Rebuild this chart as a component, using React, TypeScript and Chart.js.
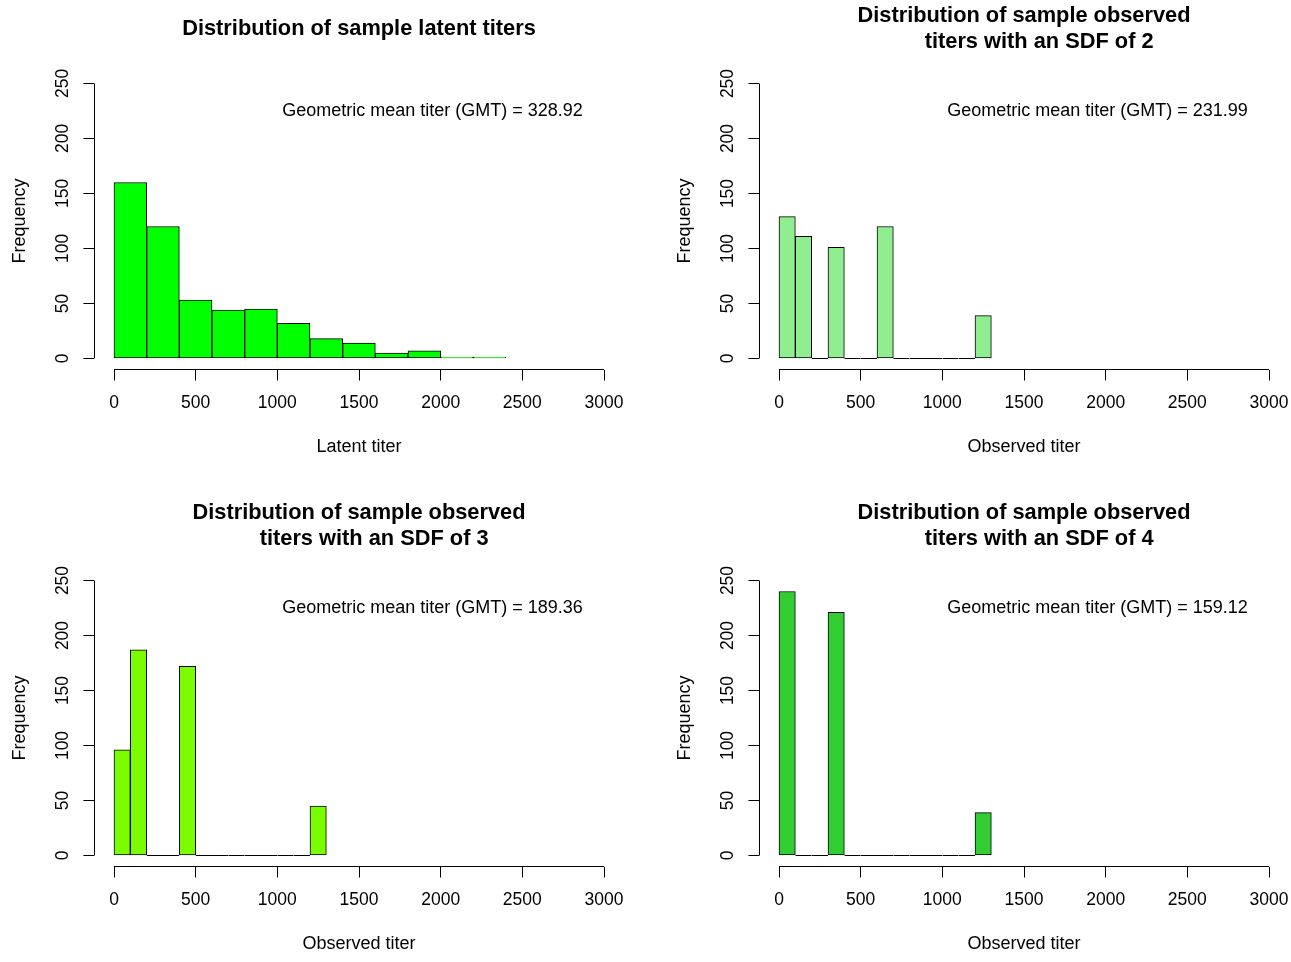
import React, { useEffect, useRef } from "react";
import { Chart, registerables } from "chart.js";

Chart.register(...registerables);

const FONT = "'Liberation Sans', Arial, Helvetica, sans-serif";

// ---- data ----
const latentCounts = [160, 120, 53, 44, 45, 32, 18, 14, 5, 7, 1, 1];
const sdf2Counts = [129, 111, 0, 101, 0, 0, 120, 0, 0, 0, 0, 0, 39];
const sdf3Counts = [96, 187, 0, 0, 172, 0, 0, 0, 0, 0, 0, 0, 45];
const sdf4Counts = [240, 0, 0, 221, 0, 0, 0, 0, 0, 0, 0, 0, 39];
const latentBinWidth = 200;
const observedBinWidth = 100;
const xTicks = [0, 500, 1000, 1500, 2000, 2500, 3000];
const yTicks = [0, 50, 100, 150, 200, 250];
const gmtValues = ["328.92", "231.99", "189.36", "159.12"];
const panelTitles = [
  ["Distribution of sample latent titers"],
  ["Distribution of sample observed", "     titers with an SDF of 2"],
  ["Distribution of sample observed", "     titers with an SDF of 3"],
  ["Distribution of sample observed", "     titers with an SDF of 4"],
];
const xAxisTitles = ["Latent titer", "Observed titer", "Observed titer", "Observed titer"];
const yAxisTitle = "Frequency";
const gmtLabelX = 1950;
const gmtLabelY = 225;

const barColors = ["#00FF00", "#90EE90", "#7CFC00", "#32CD32"];

type PanelProps = {
  counts: number[];
  binWidth: number;
  title: string[];
  xTitle: string;
  color: string;
  gmt: string;
  left: number;
  top: number;
};

function Panel({ counts, binWidth, title, xTitle, color, gmt, left, top }: PanelProps) {
  const ref = useRef<HTMLCanvasElement | null>(null);

  useEffect(() => {
    if (!ref.current) return;
    const points = counts.map((c, i) => ({ x: binWidth * (i + 0.5), y: c }));

    const axisLines = {
      id: "axisLines",
      afterDraw(chart: any) {
        const { ctx, chartArea, scales } = chart;
        const xs = scales.x;
        const ys = scales.y;
        ctx.save();
        ctx.strokeStyle = "#000";
        ctx.lineWidth = 1;
        ctx.beginPath();
        const yb = Math.floor(chartArea.bottom) + 0.5;
        ctx.moveTo(xs.getPixelForValue(xTicks[0]), yb);
        ctx.lineTo(xs.getPixelForValue(xTicks[xTicks.length - 1]), yb);
        const xl = Math.round(chartArea.left) + 0.5;
        ctx.moveTo(xl, ys.getPixelForValue(yTicks[0]));
        ctx.lineTo(xl, ys.getPixelForValue(yTicks[yTicks.length - 1]));
        ctx.stroke();
        ctx.restore();
      },
    };

    const gmtText = {
      id: "gmtText",
      afterDraw(chart: any) {
        const { ctx, scales } = chart;
        ctx.save();
        ctx.fillStyle = "#000";
        ctx.font = `18px ${FONT}`;
        ctx.textAlign = "center";
        ctx.textBaseline = "middle";
        ctx.fillText(
          `Geometric mean titer (GMT) = ${gmt}`,
          scales.x.getPixelForValue(gmtLabelX),
          scales.y.getPixelForValue(gmtLabelY)
        );
        ctx.restore();
      },
    };

    const chart = new Chart(ref.current, {
      type: "bar",
      data: {
        datasets: [
          {
            data: points as any,
            backgroundColor: color,
            borderColor: "#000",
            borderWidth: 1,
            borderSkipped: false,
            barPercentage: 1,
            categoryPercentage: 1,
            minBarLength: 1,
            inflateAmount: (c: any) => (c.raw && c.raw.y === 0 ? 0 : 0.33),
          } as any,
        ],
      },
      options: {
        animation: false,
        responsive: false,
        devicePixelRatio: 1,
        layout: { padding: { left: 0, right: 2.4, top: 0, bottom: 0 } },
        plugins: {
          legend: { display: false },
          tooltip: { enabled: false },
          title: {
            display: true,
            fullSize: false,
            text: title,
            color: "#000",
            font: { family: FONT, size: 21.8, weight: "bold", lineHeight: 1.2 },
            padding: title.length > 1 ? { top: 2.9, bottom: 17.3 } : { top: 15.9, bottom: 30.4 },
          },
        },
        scales: {
          x: {
            type: "linear",
            min: -120,
            max: 3120,
            offset: false,
            afterBuildTicks: (s: any) => {
              s.ticks = xTicks.map((v) => ({ value: v }));
            },
            afterFit: (s: any) => {
              s.height = 95.5;
            },
            grid: {
              display: true,
              offset: false,
              drawOnChartArea: false,
              drawTicks: true,
              tickLength: 11,
              color: "#000",
              lineWidth: 1,
            },
            border: { display: false },
            ticks: {
              autoSkip: false,
              maxRotation: 0,
              minRotation: 0,
              padding: 0,
              color: "#000",
              font: { family: FONT, size: 17.5, lineHeight: "46px" as any },
              callback: (v: any) => String(v),
            },
            title: {
              display: true,
              text: xTitle,
              color: "#000",
              font: { family: FONT, size: 18, lineHeight: 1.2 },
              padding: { top: 0, bottom: 6.7 },
            },
          },
          y: {
            type: "linear",
            min: -10,
            max: 260,
            afterBuildTicks: (s: any) => {
              s.ticks = yTicks.map((v) => ({ value: v }));
            },
            afterFit: (s: any) => {
              s.width = 94.4;
            },
            grid: {
              display: true,
              drawOnChartArea: false,
              drawTicks: true,
              tickLength: 11,
              color: "#000",
              lineWidth: 1,
            },
            border: { display: false },
            ticks: {
              minRotation: 90,
              maxRotation: 90,
              crossAlign: "center",
              padding: 5.8,
              color: "#000",
              font: { family: FONT, size: 17.5, lineHeight: 1.2 },
              callback: (v: any) => String(v),
            },
            title: {
              display: true,
              text: yAxisTitle,
              color: "#000",
              font: { family: FONT, size: 18, lineHeight: 1.2 },
              padding: { top: 9.2, bottom: 0 },
            },
          },
        },
      } as any,
      plugins: [axisLines, gmtText],
    });
    return () => chart.destroy();
  }, []);

  return (
    <canvas
      ref={ref}
      width={626}
      height={465}
      style={{ position: "absolute", left, top, width: 626, height: 465, display: "block" }}
    />
  );
}

export default function App() {
  return (
    <div
      style={{
        position: "absolute",
        left: 0,
        top: 0,
        width: 1291,
        height: 962,
        background: "#fff",
        overflow: "hidden",
      }}
    >
      <Panel counts={latentCounts} binWidth={latentBinWidth} title={panelTitles[0]} xTitle={xAxisTitles[0]} color={barColors[0]} gmt={gmtValues[0]} left={0} top={0} />
      <Panel counts={sdf2Counts} binWidth={observedBinWidth} title={panelTitles[1]} xTitle={xAxisTitles[1]} color={barColors[1]} gmt={gmtValues[1]} left={665} top={0} />
      <Panel counts={sdf3Counts} binWidth={observedBinWidth} title={panelTitles[2]} xTitle={xAxisTitles[2]} color={barColors[2]} gmt={gmtValues[2]} left={0} top={497} />
      <Panel counts={sdf4Counts} binWidth={observedBinWidth} title={panelTitles[3]} xTitle={xAxisTitles[3]} color={barColors[3]} gmt={gmtValues[3]} left={665} top={497} />
    </div>
  );
}
